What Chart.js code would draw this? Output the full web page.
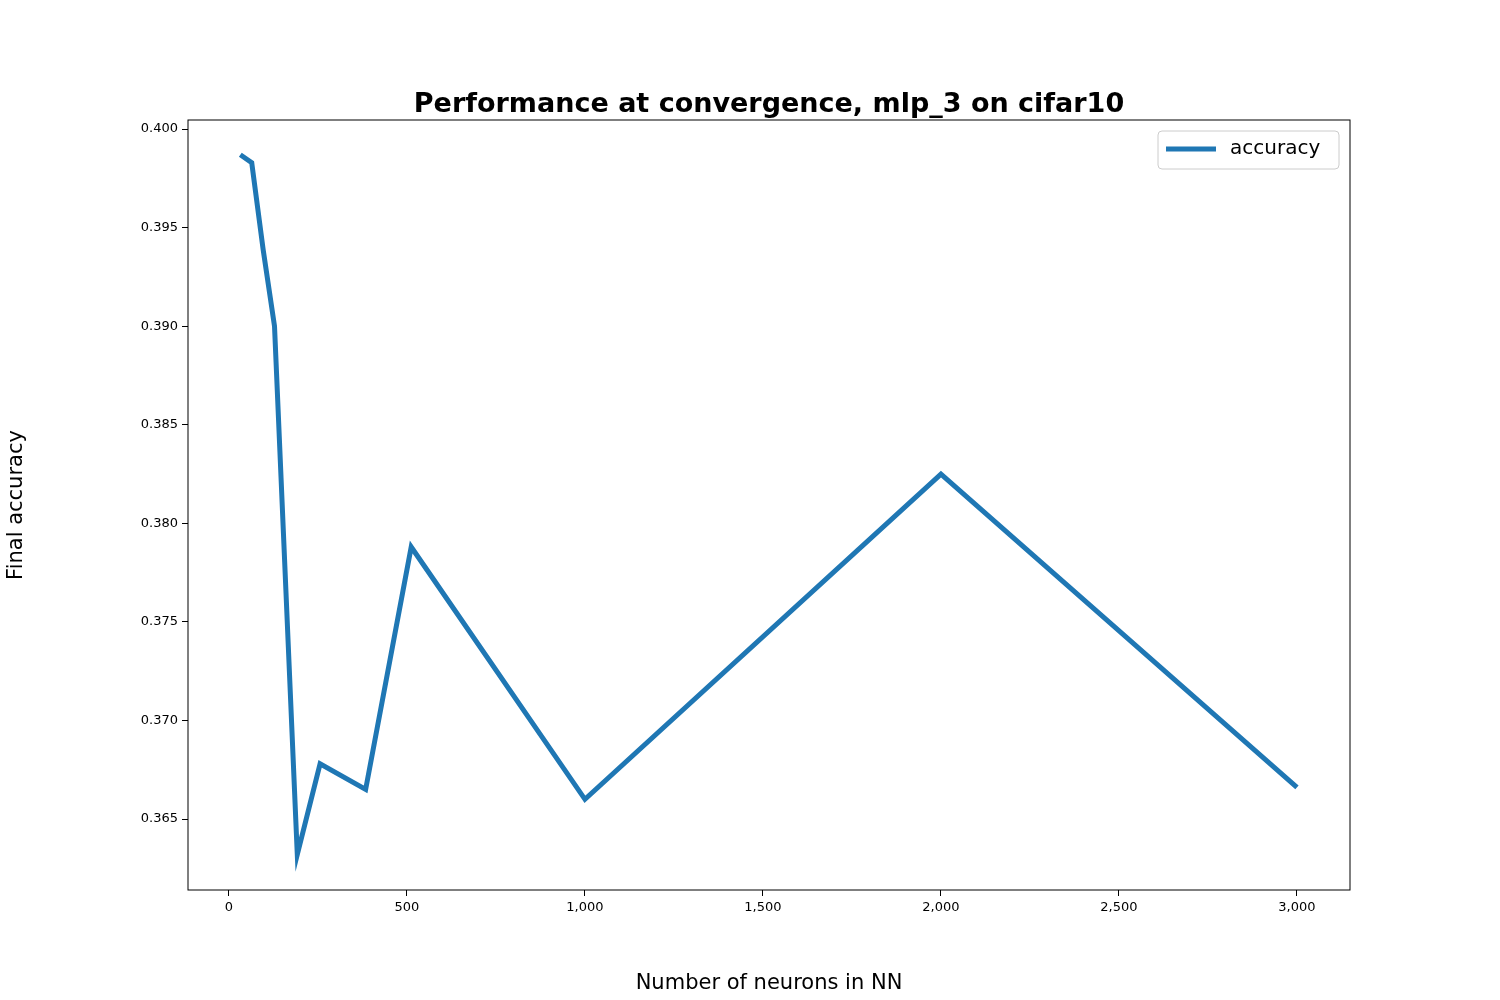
<!DOCTYPE html>
<html>
<head>
<meta charset="utf-8">
<script src="https://cdn.jsdelivr.net/npm/chart.js@4"></script>
<style>
  body { margin: 0; background: #fff; }
  #wrap { width: 1500px; height: 1000px; }
</style>
</head>
<body>
<div id="wrap"><canvas id="chart"></canvas></div>
<script>
const neurons = [32, 64, 96, 128, 192, 256, 384, 512, 1000, 2000, 3000];
const accuracy = [0.3987, 0.3983, 0.3939, 0.3900, 0.3632, 0.3678, 0.3665, 0.3788, 0.3660, 0.3825, 0.3666];
const xTicks = [0, 500, 1000, 1500, 2000, 2500, 3000];
const yTicks = [0.365, 0.370, 0.375, 0.380, 0.385, 0.390, 0.395, 0.400];

const FONT = "'DejaVu Sans', sans-serif";

const frame = {
  id: "frame",
  afterDraw(chart) {
    const { ctx, chartArea: a } = chart;
    ctx.save();
    ctx.strokeStyle = "#000";
    ctx.lineWidth = 1;
    ctx.strokeRect(a.left, a.top, a.right - a.left, a.bottom - a.top);

    ctx.fillStyle = "#000";
    ctx.font = "bold 27px " + FONT;
    ctx.textAlign = "center";
    ctx.textBaseline = "alphabetic";
    ctx.fillText("Performance at convergence, mlp_3 on cifar10", (a.left + a.right) / 2, 112);

    // legend
    const bx = 1158, by = 131, bw = 181, bh = 38;
    ctx.fillStyle = "rgba(255,255,255,0.8)";
    ctx.strokeStyle = "#ccc";
    ctx.beginPath();
    ctx.roundRect(bx, by, bw, bh, 4);
    ctx.fill();
    ctx.stroke();
    ctx.strokeStyle = "#1f77b4";
    ctx.lineWidth = 5;
    ctx.beginPath();
    ctx.moveTo(bx + 8, by + 18);
    ctx.lineTo(bx + 58, by + 18);
    ctx.stroke();
    ctx.fillStyle = "#000";
    ctx.font = "20px " + FONT;
    ctx.textAlign = "left";
    ctx.textBaseline = "middle";
    ctx.fillText("accuracy", bx + 72, by + 18);
    ctx.restore();
  }
};

new Chart(document.getElementById("chart"), {
  type: "line",
  data: {
    datasets: [{
      label: "accuracy",
      data: neurons.map((n, i) => ({ x: n, y: accuracy[i] })),
      borderColor: "#1f77b4",
      borderWidth: 5,
      pointRadius: 0,
      tension: 0,
      fill: false
    }]
  },
  options: {
    responsive: true,
    maintainAspectRatio: false,
    animation: false,
    layout: { padding: { top: 120, right: 150, left: 0, bottom: 0 } },
    plugins: { legend: { display: false }, tooltip: { enabled: false } },
    scales: {
      x: {
        type: "linear",
        min: -115,
        max: 3149,
        afterBuildTicks: (s) => { s.ticks = xTicks.map((v) => ({ value: v })); },
        afterFit: (s) => { s.height = 110; },
        grid: { drawOnChartArea: false, tickLength: 6, tickColor: "#000" },
        border: { display: false },
        ticks: { color: "#000", font: { family: FONT, size: 13 }, padding: 4, maxRotation: 0 },
        title: { display: true, text: "Number of neurons in NN", color: "#000", font: { family: FONT, size: 21 }, padding: { top: 4 } }
      },
      y: {
        min: 0.3614,
        max: 0.40046,
        afterBuildTicks: (s) => { s.ticks = yTicks.map((v) => ({ value: v })); },
        afterFit: (s) => { s.width = 188; },
        grid: { drawOnChartArea: false, tickLength: 6, tickColor: "#000" },
        border: { display: false },
        ticks: { color: "#000", font: { family: FONT, size: 13 }, padding: 4, callback: (v) => v.toFixed(3) },
        title: { display: true, text: "Final accuracy", color: "#000", font: { family: FONT, size: 21 }, padding: { bottom: 8 } }
      }
    }
  },
  plugins: [frame]
});
</script>
</body>
</html>
